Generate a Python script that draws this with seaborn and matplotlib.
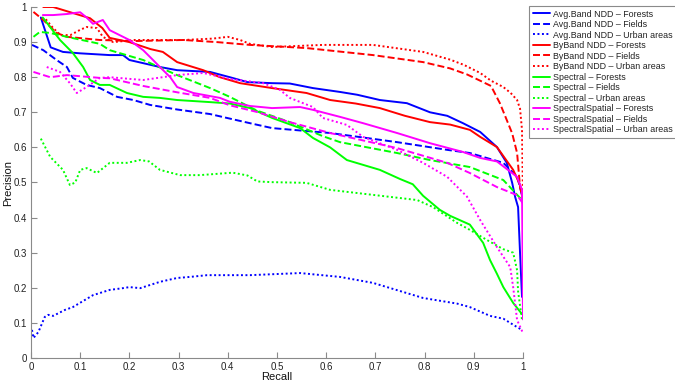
import matplotlib
matplotlib.use("Agg")
import matplotlib.pyplot as plt
from matplotlib.ticker import FuncFormatter, MultipleLocator
import seaborn as sns

# ---------------- data (recall, precision) ----------------
avg_forests_r = [0.02, 0.04, 0.065, 0.10, 0.16, 0.187, 0.20, 0.228, 0.262, 0.297, 0.364, 0.404, 0.44, 0.49, 0.526, 0.573, 0.628, 0.663, 0.709, 0.764, 0.811, 0.846, 0.878, 0.913, 0.947, 0.967, 0.978, 0.984, 0.99, 0.994, 0.998]
avg_forests_p = [0.97, 0.885, 0.872, 0.868, 0.863, 0.863, 0.849, 0.84, 0.829, 0.82, 0.815, 0.80, 0.786, 0.783, 0.782, 0.769, 0.758, 0.75, 0.735, 0.726, 0.70, 0.69, 0.669, 0.644, 0.601, 0.556, 0.499, 0.459, 0.43, 0.299, 0.174]

avg_fields_r = [0.002, 0.025, 0.052, 0.073, 0.085, 0.113, 0.14, 0.175, 0.208, 0.242, 0.297, 0.364, 0.398, 0.445, 0.49, 0.608, 0.744, 0.846, 0.892, 0.96, 0.988, 0.994, 1.0]
avg_fields_p = [0.892, 0.877, 0.849, 0.829, 0.798, 0.778, 0.769, 0.744, 0.735, 0.721, 0.708, 0.695, 0.684, 0.669, 0.655, 0.641, 0.615, 0.593, 0.584, 0.556, 0.516, 0.487, 0.45]

avg_urban_r = [0.002, 0.005, 0.015, 0.028, 0.035, 0.045, 0.069, 0.085, 0.126, 0.16, 0.187, 0.20, 0.222, 0.262, 0.297, 0.323, 0.358, 0.398, 0.445, 0.547, 0.628, 0.695, 0.797, 0.866, 0.892, 0.933, 0.96, 0.988, 0.998]
avg_urban_p = [0.08, 0.057, 0.074, 0.117, 0.123, 0.12, 0.137, 0.145, 0.179, 0.194, 0.199, 0.202, 0.199, 0.217, 0.228, 0.231, 0.236, 0.236, 0.236, 0.242, 0.231, 0.214, 0.171, 0.155, 0.145, 0.12, 0.112, 0.088, 0.08]

bb_forests_r = [0.025, 0.045, 0.08, 0.12, 0.145, 0.16, 0.20, 0.243, 0.268, 0.297, 0.35, 0.384, 0.425, 0.49, 0.56, 0.608, 0.66, 0.709, 0.76, 0.811, 0.852, 0.892, 0.913, 0.947, 0.98, 0.994, 1.0]
bb_forests_p = [1.0, 1.0, 0.985, 0.968, 0.94, 0.912, 0.90, 0.88, 0.872, 0.843, 0.82, 0.80, 0.783, 0.769, 0.755, 0.735, 0.725, 0.712, 0.69, 0.672, 0.665, 0.65, 0.63, 0.601, 0.536, 0.493, 0.45]

bb_fields_r = [0.005, 0.025, 0.052, 0.073, 0.14, 0.21, 0.31, 0.378, 0.445, 0.56, 0.695, 0.797, 0.852, 0.886, 0.913, 0.935, 0.953, 0.967, 0.978, 0.988, 0.994, 1.0]
bb_fields_p = [0.986, 0.963, 0.926, 0.915, 0.906, 0.903, 0.906, 0.90, 0.892, 0.883, 0.863, 0.843, 0.825, 0.808, 0.79, 0.775, 0.726, 0.678, 0.64, 0.584, 0.487, 0.45]

bb_urban_r = [0.03, 0.045, 0.06, 0.08, 0.10, 0.113, 0.134, 0.146, 0.167, 0.21, 0.31, 0.37, 0.40, 0.425, 0.445, 0.49, 0.593, 0.695, 0.797, 0.852, 0.88, 0.913, 0.935, 0.96, 0.975, 0.988, 0.994, 0.998, 1.0]
bb_urban_p = [0.965, 0.94, 0.92, 0.92, 0.935, 0.943, 0.94, 0.915, 0.90, 0.906, 0.906, 0.91, 0.915, 0.906, 0.895, 0.886, 0.892, 0.892, 0.872, 0.85, 0.835, 0.812, 0.79, 0.772, 0.755, 0.735, 0.71, 0.65, 0.45]

sp_forests_r = [0.024, 0.059, 0.085, 0.106, 0.12, 0.14, 0.16, 0.195, 0.228, 0.262, 0.297, 0.364, 0.404, 0.445, 0.49, 0.547, 0.573, 0.608, 0.642, 0.709, 0.75, 0.776, 0.797, 0.831, 0.852, 0.892, 0.919, 0.933, 0.947, 0.96, 0.98, 0.998]
sp_forests_p = [0.97, 0.906, 0.869, 0.829, 0.792, 0.778, 0.778, 0.755, 0.744, 0.741, 0.735, 0.729, 0.725, 0.712, 0.684, 0.655, 0.627, 0.60, 0.564, 0.536, 0.51, 0.495, 0.462, 0.422, 0.405, 0.38, 0.328, 0.279, 0.24, 0.202, 0.157, 0.125]

sp_fields_r = [0.005, 0.018, 0.039, 0.073, 0.14, 0.16, 0.228, 0.297, 0.364, 0.404, 0.459, 0.526, 0.593, 0.628, 0.744, 0.811, 0.892, 0.96, 0.994, 1.0]
sp_fields_p = [0.915, 0.929, 0.926, 0.915, 0.895, 0.877, 0.849, 0.806, 0.769, 0.744, 0.705, 0.672, 0.632, 0.615, 0.584, 0.564, 0.544, 0.507, 0.456, 0.45]

sp_urban_r = [0.02, 0.039, 0.065, 0.079, 0.09, 0.10, 0.113, 0.134, 0.16, 0.195, 0.222, 0.24, 0.262, 0.303, 0.343, 0.41, 0.44, 0.46, 0.49, 0.56, 0.608, 0.663, 0.73, 0.785, 0.817, 0.866, 0.892, 0.927, 0.96, 0.98, 0.988, 0.99, 0.998]
sp_urban_p = [0.625, 0.573, 0.536, 0.493, 0.50, 0.536, 0.541, 0.527, 0.556, 0.556, 0.564, 0.56, 0.536, 0.521, 0.521, 0.528, 0.52, 0.503, 0.501, 0.499, 0.479, 0.47, 0.459, 0.45, 0.43, 0.385, 0.365, 0.336, 0.31, 0.30, 0.25, 0.19, 0.108]

ss_forests_r = [0.024, 0.045, 0.073, 0.10, 0.113, 0.126, 0.146, 0.16, 0.20, 0.228, 0.248, 0.262, 0.283, 0.297, 0.33, 0.384, 0.404, 0.445, 0.49, 0.547, 0.573, 0.628, 0.675, 0.744, 0.811, 0.878, 0.913, 0.947, 0.988, 0.998, 1.0]
ss_forests_p = [0.977, 0.977, 0.98, 0.985, 0.97, 0.952, 0.963, 0.934, 0.906, 0.877, 0.849, 0.829, 0.80, 0.772, 0.755, 0.741, 0.73, 0.718, 0.712, 0.715, 0.707, 0.687, 0.669, 0.641, 0.612, 0.587, 0.57, 0.56, 0.516, 0.479, 0.11]

ss_fields_r = [0.005, 0.039, 0.073, 0.14, 0.16, 0.228, 0.297, 0.364, 0.404, 0.459, 0.526, 0.608, 0.744, 0.846, 0.892, 0.947, 0.988, 1.0]
ss_fields_p = [0.815, 0.80, 0.806, 0.798, 0.797, 0.775, 0.757, 0.741, 0.72, 0.701, 0.672, 0.641, 0.598, 0.556, 0.527, 0.487, 0.464, 0.44]

ss_urban_r = [0.032, 0.059, 0.079, 0.093, 0.113, 0.14, 0.16, 0.228, 0.297, 0.35, 0.404, 0.472, 0.506, 0.526, 0.573, 0.593, 0.642, 0.675, 0.744, 0.797, 0.846, 0.886, 0.913, 0.947, 0.974, 0.98, 0.988, 1.0]
ss_urban_p = [0.829, 0.815, 0.783, 0.755, 0.772, 0.798, 0.80, 0.792, 0.806, 0.812, 0.795, 0.783, 0.764, 0.741, 0.715, 0.684, 0.664, 0.63, 0.593, 0.556, 0.516, 0.46, 0.393, 0.316, 0.259, 0.202, 0.108, 0.071]

series_labels = [
    "Avg.Band NDD – Forests", "Avg.Band NDD – Fields", "Avg.Band NDD – Urban areas",
    "ByBand NDD – Forests", "ByBand NDD – Fields", "ByBand NDD – Urban areas",
    "Spectral – Forests", "Spectral – Fields", "Spectral – Urban areas",
    "SpectralSpatial – Forests", "SpectralSpatial – Fields", "SpectralSpatial – Urban areas",
]
series_data = [
    (avg_forests_r, avg_forests_p), (avg_fields_r, avg_fields_p), (avg_urban_r, avg_urban_p),
    (bb_forests_r, bb_forests_p), (bb_fields_r, bb_fields_p), (bb_urban_r, bb_urban_p),
    (sp_forests_r, sp_forests_p), (sp_fields_r, sp_fields_p), (sp_urban_r, sp_urban_p),
    (ss_forests_r, ss_forests_p), (ss_fields_r, ss_fields_p), (ss_urban_r, ss_urban_p),
]
method_colors = ["#0000ff", "#ff0000", "#00ff00", "#ff00ff"]

# ---------------- style ----------------
sns.set_style("ticks")
plt.rcParams["font.family"] = ["Liberation Sans", "DejaVu Sans"]
plt.rcParams["lines.dash_capstyle"] = "butt"

LW = 1.4
line_styles = ["-", (0, (3.6, 1.6)), (0, (1.0, 1.3))]

fig = plt.figure(figsize=(6.75, 3.83), dpi=100)
ax = fig.add_axes([31 / 675, 1 - 358 / 383, (523 - 31) / 675, (358 - 7) / 383])

for i, (lab, (r, p)) in enumerate(zip(series_labels, series_data)):
    sns.lineplot(x=r, y=p, ax=ax, color=method_colors[i // 3],
                 linestyle=line_styles[i % 3], linewidth=LW,
                 estimator=None, sort=False, label=lab)

ax.set_xlim(0, 1)
ax.set_ylim(0, 1)
ax.xaxis.set_major_locator(MultipleLocator(0.1))
ax.yaxis.set_major_locator(MultipleLocator(0.1))
fmt = FuncFormatter(lambda v, pos: "%g" % round(v, 2))
ax.xaxis.set_major_formatter(fmt)
ax.yaxis.set_major_formatter(fmt)

spine_col = "#8a8a8a"
for s in ["top", "right"]:
    ax.spines[s].set_visible(False)
for s in ["left", "bottom"]:
    ax.spines[s].set_color(spine_col)
    ax.spines[s].set_linewidth(0.8)
ax.tick_params(direction="in", length=4, width=0.8, color=spine_col,
               labelsize=7, labelcolor="#222222", pad=3)

ax.set_xlabel("Recall", fontsize=8, color="#111111", labelpad=0)
ax.set_ylabel("Precision", fontsize=8, color="#111111", labelpad=0.5)

leg = ax.legend(loc="upper left", bbox_to_anchor=(529 / 675, 1 - 6 / 383),
                bbox_transform=fig.transFigure, borderaxespad=0,
                fontsize=6.4, frameon=True, fancybox=False, framealpha=1,
                edgecolor="#8a8a8a", handlelength=2.0, handletextpad=0.25,
                labelspacing=0.17, borderpad=0.4)
leg.get_frame().set_linewidth(0.8)
for t in leg.get_texts():
    t.set_color("#222222")

fig.savefig("out.png", dpi=100)
